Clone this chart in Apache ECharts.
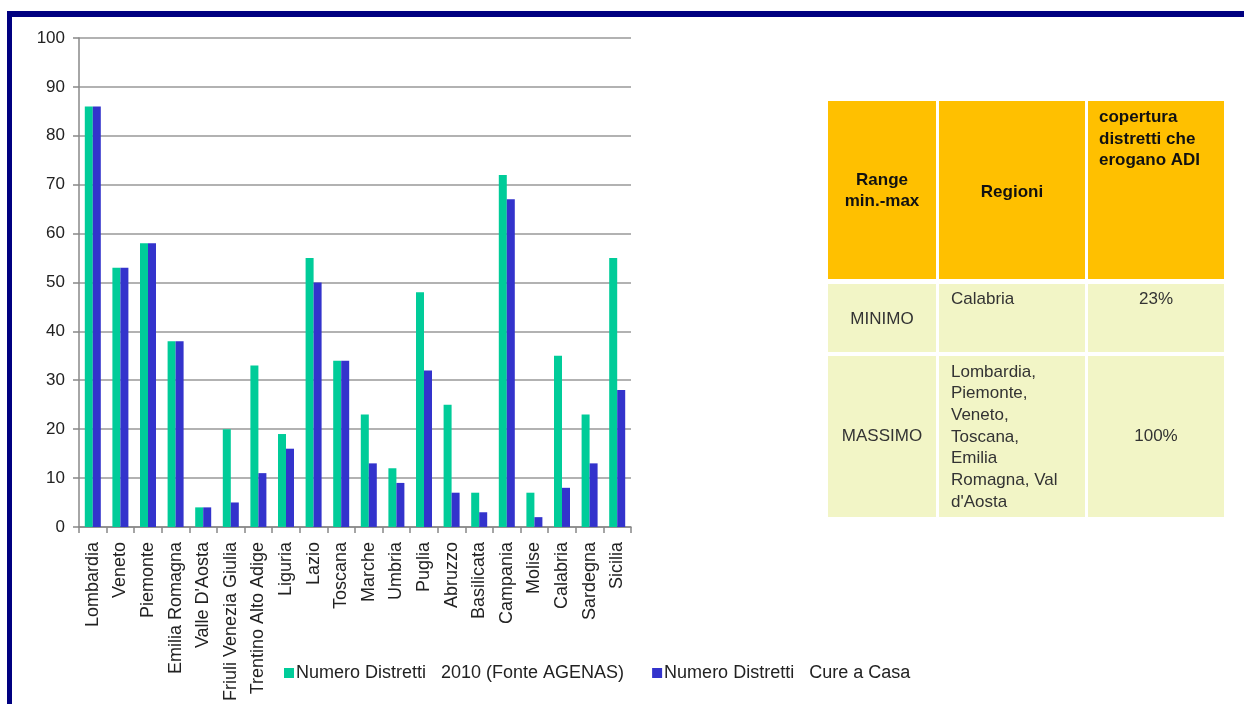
<!DOCTYPE html>
<html>
<head>
<meta charset="utf-8">
<script src="https://cdn.jsdelivr.net/npm/echarts@6/dist/echarts.min.js"></script>
<style>
html, body { margin: 0; padding: 0; background: #fff; }
#main { width: 1244px; height: 704px; }
</style>
</head>
<body>
<div id="main"></div>
<script>
// dati del grafico
var regioni = ['Lombardia', 'Veneto', 'Piemonte', 'Emilia Romagna', "Valle D'Aosta",
	'Friuli Venezia Giulia', 'Trentino Alto Adige', 'Liguria', 'Lazio', 'Toscana',
	'Marche', 'Umbria', 'Puglia', 'Abruzzo', 'Basilicata', 'Campania', 'Molise',
	'Calabria', 'Sardegna', 'Sicilia'];
var distrettiAgenas = [86, 53, 58, 38, 4, 20, 33, 19, 55, 34, 23, 12, 48, 25, 7, 72, 7, 35, 23, 55];
var distrettiCureCasa = [86, 53, 58, 38, 4, 5, 11, 16, 50, 34, 13, 9, 32, 7, 3, 67, 2, 8, 13, 28];
var nomiSerie = ['Numero Distretti   2010 (Fonte AGENAS)', 'Numero Distretti   Cure a Casa'];

// tabella a destra
var tabIntestazione = ['Range\nmin.-max', 'Regioni', 'copertura\ndistretti che\nerogano ADI'];
var tabRighe = [
	['MINIMO', 'Calabria', '23%'],
	['MASSIMO', "Lombardia,\nPiemonte,\nVeneto,\nToscana,\nEmilia\nRomagna, Val\nd'Aosta", '100%']
];

var font = '"Liberation Sans", Arial, sans-serif';
var myChart = echarts.init(document.getElementById('main'));

// celle della tabella (x0, x1, y0, y1)
var colX = [[828, 936], [939, 1085], [1088, 1224]];
var rowY = [[101, 279], [284, 352], [356, 517]];

var graphic = [
	// cornice blu
	{ type: 'rect', shape: { x: 7, y: 11, width: 1237, height: 6 }, style: { fill: '#000080' } },
	{ type: 'rect', shape: { x: 7, y: 11, width: 5, height: 693 }, style: { fill: '#000080' } }
];
for (var r = 0; r < rowY.length; r++) {
	for (var c = 0; c < colX.length; c++) {
		graphic.push({
			type: 'rect',
			shape: { x: colX[c][0], y: rowY[r][0], width: colX[c][1] - colX[c][0], height: rowY[r][1] - rowY[r][0] },
			style: { fill: r === 0 ? '#FFC000' : '#F2F5C6' }
		});
	}
}
var hdrStyle = { fontFamily: font, fontSize: 17, fontWeight: 'bold', fill: '#111', lineHeight: 21.5 };
graphic.push(
	{ type: 'text', x: 882, y: 191, style: Object.assign({ text: tabIntestazione[0], align: 'center', verticalAlign: 'middle' }, hdrStyle) },
	{ type: 'text', x: 1012, y: 192, style: Object.assign({ text: tabIntestazione[1], align: 'center', verticalAlign: 'middle' }, hdrStyle) },
	{ type: 'text', x: 1099, y: 107, style: Object.assign({ text: tabIntestazione[2], align: 'left', verticalAlign: 'top' }, hdrStyle) }
);
var bodyStyle = { fontFamily: font, fontSize: 17, fill: '#333', lineHeight: 21.7 };
var rowCenter = [319, 436];
var rowTop = [288, 361];
for (var i = 0; i < tabRighe.length; i++) {
	graphic.push(
		{ type: 'text', x: 882, y: rowCenter[i], style: Object.assign({ text: tabRighe[i][0], align: 'center', verticalAlign: 'middle' }, bodyStyle) },
		{ type: 'text', x: 951, y: rowTop[i], style: Object.assign({ text: tabRighe[i][1], align: 'left', verticalAlign: 'top' }, bodyStyle) },
		{ type: 'text', x: 1156, y: i === 0 ? 299 : 436, style: Object.assign({ text: tabRighe[i][2], align: 'center', verticalAlign: 'middle' }, bodyStyle) }
	);
}

option = {
	animation: false,
	backgroundColor: '#fff',
	textStyle: { fontFamily: font },
	color: ['#00CC99', '#3333CC'],
	legend: {
		left: 279,
		top: 659,
		icon: 'rect',
		itemWidth: 10,
		itemHeight: 10,
		itemGap: 28,
		textStyle: { fontFamily: font, fontSize: 18, color: '#222', padding: [0, 0, 0, -3] },
		data: nomiSerie
	},
	grid: {
		left: 79,
		right: 613,
		top: 38,
		bottom: 177,
		containLabel: false
	},
	xAxis: {
		type: 'category',
		data: regioni,
		axisLine: { lineStyle: { color: '#888', width: 1.5 } },
		axisTick: { show: true, length: 6, lineStyle: { color: '#888', width: 1.5 } },
		axisLabel: {
			rotate: 90,
			interval: 0,
			margin: 15,
			fontFamily: font,
			fontSize: 18,
			color: '#222'
		}
	},
	yAxis: {
		type: 'value',
		min: 0,
		max: 100,
		interval: 10,
		axisLine: { show: true, lineStyle: { color: '#888', width: 1.5 } },
		axisTick: { show: true, length: 6, lineStyle: { color: '#888', width: 1.5 } },
		splitLine: { lineStyle: { color: '#999', width: 1.5 } },
		axisLabel: { margin: 14, fontFamily: font, fontSize: 17, color: '#222' }
	},
	series: [
		{
			name: nomiSerie[0],
			type: 'bar',
			barWidth: 8,
			barGap: '0%',
			data: distrettiAgenas
		},
		{
			name: nomiSerie[1],
			type: 'bar',
			barWidth: 8,
			barGap: '0%',
			data: distrettiCureCasa
		}
	],
	graphic: graphic
};

myChart.setOption(option);
</script>
</body>
</html>
